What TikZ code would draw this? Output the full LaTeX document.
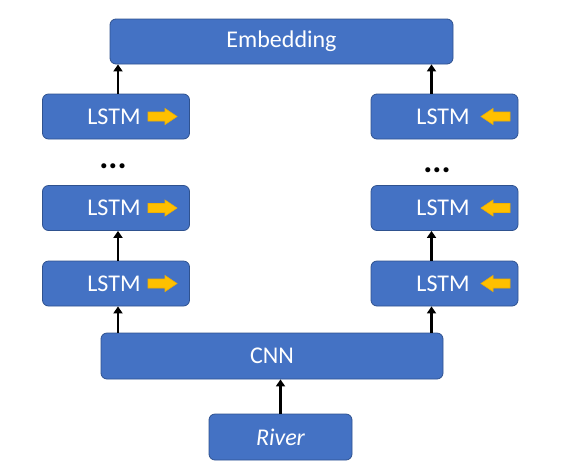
\documentclass[tikz,border=0pt]{standalone}
\usepackage{fontspec}
\setmainfont{Carlito}
\usetikzlibrary{arrows.meta}
\definecolor{boxfill}{HTML}{4472C4}
\definecolor{boxline}{HTML}{2F528F}
\definecolor{arrfill}{HTML}{FFC000}
\definecolor{arrline}{HTML}{F0B000}
\tikzset{
  box/.style={draw=boxline, line width=0.8pt, fill=boxfill, rounded corners=6pt, inner sep=0pt},
  lbl/.style={text=white, font=\fontsize{24}{26}\selectfont, inner sep=0pt},
  conn/.style={line width=2.6pt, -{Triangle[length=7pt,width=9pt]}},
  dots/.style={font=\fontsize{34}{36}\selectfont\bfseries, inner sep=0pt},
  blockarr/.style={fill=arrfill, draw=arrline, line width=0.6pt}
}
\newcommand{\rightblock}[1]{%
  \draw[blockarr] ([xshift=-14.5pt,yshift=-4.5pt]#1) -- ++(17pt,0) -- ++(0,-3.5pt) -- ++(12pt,8pt) -- ++(-12pt,8pt) -- ++(0,-3.5pt) -- ++(-17pt,0) -- cycle;}
\newcommand{\leftblock}[1]{%
  \draw[blockarr] ([xshift=14.5pt,yshift=-4.5pt]#1) -- ++(-17pt,0) -- ++(0,-3.5pt) -- ++(-12pt,8pt) -- ++(12pt,8pt) -- ++(0,-3.5pt) -- ++(17pt,0) -- cycle;}
\begin{document}
\begin{tikzpicture}[x=1pt,y=-1pt]
\useasboundingbox (0,0) rectangle (561,472);
% boxes
\node[box, minimum width=343pt, minimum height=45pt] (emb) at (281.5,41.5) {};
\node[lbl] (embt) at (281.5,41.5) {Embedding};
\node[box, minimum width=147pt, minimum height=45pt] (L1) at (116,116.5) {};
\node[box, minimum width=147pt, minimum height=45pt] (L2) at (116,208) {};
\node[box, minimum width=147pt, minimum height=45pt] (L3) at (116,283.5) {};
\node[box, minimum width=147pt, minimum height=45pt] (R1) at (444.5,116.5) {};
\node[box, minimum width=147pt, minimum height=45pt] (R2) at (444.5,208) {};
\node[box, minimum width=147pt, minimum height=45pt] (R3) at (444.5,283.5) {};
\node[box, minimum width=342pt, minimum height=46pt] (cnn) at (272,356) {};
\node[lbl] (cnnt) at (272,356) {CNN};
\node[box, minimum width=143pt, minimum height=46pt] (river) at (280.5,437) {};
\node[lbl] (rivert) at (280.5,437) {\itshape River};
% labels and block arrows
\foreach \n in {L1,L2,L3}{
  \node[lbl] at ([xshift=-2pt]\n.center) {LSTM};
  \coordinate (\n a) at ([xshift=46.5pt]\n.center);
  \rightblock{\n a}
}
\foreach \n in {R1,R2,R3}{
  \node[lbl] at ([xshift=-1.5pt]\n.center) {LSTM};
  \coordinate (\n a) at ([xshift=51pt]\n.center);
  \leftblock{\n a}
}
% dots
\node[dots] (dl) at (113,166) {...};
\node[dots] (dr) at (437,170) {...};
% connectors
\draw[conn] (river.north) -- (river.north |- cnn.south);
\draw[conn] ([xshift=2pt]L3.south |- cnn.north) -- ([xshift=2pt]L3.south);
\draw[conn] ([xshift=2pt]L2.south |- L3.north) -- ([xshift=2pt]L2.south);
\draw[conn] ([xshift=2pt]L1.north) -- ([xshift=2pt]L1.north |- emb.south);
\draw[conn] ([xshift=-13pt]R3.south |- cnn.north) -- ([xshift=-13pt]R3.south);
\draw[conn] ([xshift=-13pt]R2.south |- R3.north) -- ([xshift=-13pt]R2.south);
\draw[conn] ([xshift=-13pt]R1.north) -- ([xshift=-13pt]R1.north |- emb.south);
\end{tikzpicture}
\end{document}
